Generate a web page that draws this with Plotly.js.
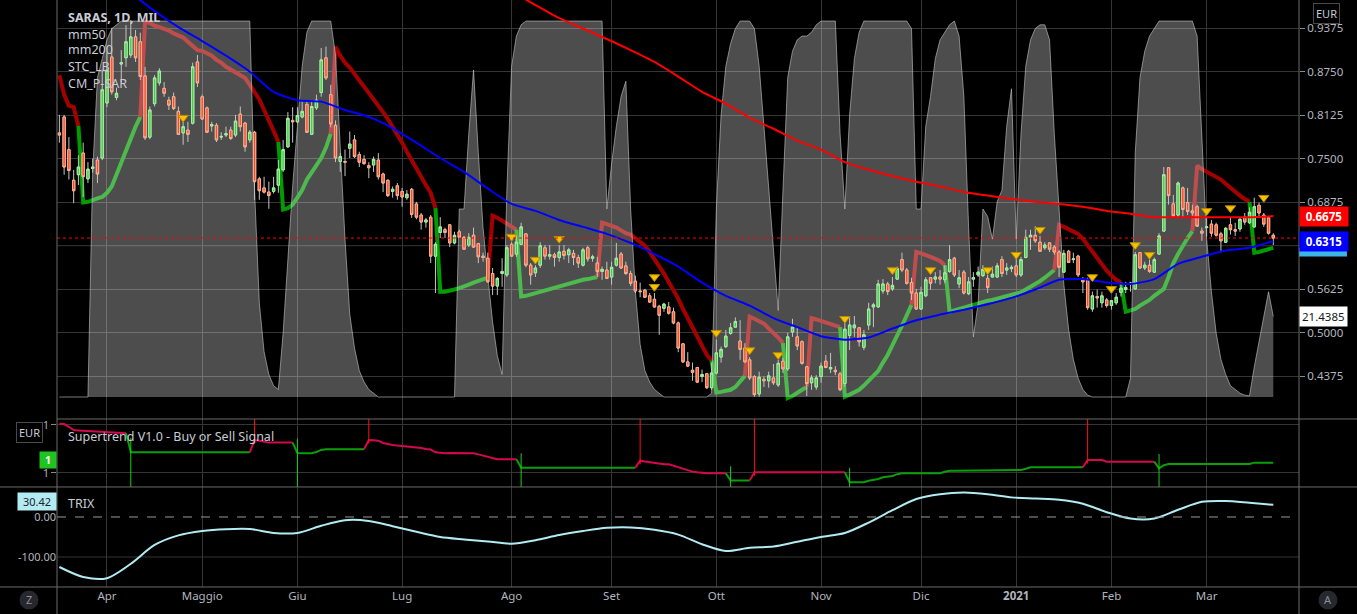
<!DOCTYPE html>
<html><head><meta charset="utf-8">
<script src="https://cdn.plot.ly/plotly-3.0.1.min.js"></script>
<style>html,body{margin:0;padding:0;background:#000;overflow:hidden}#chart{width:1357px;height:614px}</style>
</head><body><div id="chart"></div>
<script>
// ---------- DATA (trading days 18 Mar 2020 .. 19 Mar 2021, index 0..255) ----------
const monthIdx = [10,30,50,72,95,116,138,160,181,201,221,241];
const monthLbl = ['Apr','Maggio','Giu','Lug','Ago','Set','Ott','Nov','Dic','<b>2021</b>','Feb','Mar'];
const priceTicks = [0.4375,0.5,0.5625,0.6875,0.75,0.8125,0.875,0.9375];
const hiddenTick = 0.625;

const opens = [
.787,.810,.763,.719,.727,.758,.721,.736,.748,.751,
.830,.896,.838,.886,.895,.899,.925,.918,.869,.781,
.829,.859,.851,.834,.839,.818,.787,.791,.801,.889,
.839,.823,.797,.798,.781,.784,.791,.784,.814,.801,
.777,.788,.721,.708,.702,.703,.712,.734,.767,.805,
.803,.810,.828,.785,.823,.845,.895,.842,.798,.746,
.746,.765,.777,.756,.749,.740,.741,.748,.728,.719,
.703,.711,.703,.694,.706,.685,.669,.659,.666,.610,
.644,.648,.655,.629,.645,.637,.626,.640,.628,.610,
.607,.585,.567,.585,.583,.627,.613,.627,.642,.597,
.586,.597,.622,.610,.612,.608,.617,.612,.614,.608,
.597,.622,.607,.600,.588,.590,.580,.597,.613,.596,
.585,.574,.560,.561,.553,.548,.538,.535,.537,.530,
.514,.484,.458,.446,.450,.437,.441,.421,.442,.465,
.480,.499,.508,.488,.478,.461,.437,.412,.433,.431,
.435,.425,.459,.448,.501,.494,.487,.451,.428,.422,
.437,.459,.448,.446,.441,.427,.496,.507,.507,.479,
.511,.537,.537,.560,.570,.563,.577,.605,.590,.572,
.557,.534,.553,.579,.577,.580,.576,.588,.607,.570,
.587,.556,.577,.583,.582,.578,.580,.580,.605,.590,
.592,.596,.583,.608,.637,.640,.630,.622,.629,.623,
.616,.587,.617,.605,.610,.577,.576,.534,.552,.543,
.547,.539,.543,.558,.562,.570,.563,.615,.593,.597,
.587,.613,.646,.737,.685,.669,.708,.687,.675,.681,
.646,.651,.656,.655,.642,.630,.655,.648,.649,.666,
.658,.652,.683,.669,.665,.640];
const highs = [
.813,.813,.781,.734,.755,.773,.745,.750,.753,.878,
.902,.938,.852,.906,.942,.949,.935,.931,.882,.825,
.870,.880,.860,.839,.845,.825,.803,.803,.888,.899,
.842,.825,.803,.801,.788,.796,.796,.813,.825,.803,
.791,.790,.724,.724,.717,.724,.748,.777,.817,.824,
.824,.834,.834,.834,.842,.909,.911,.856,.805,.758,
.763,.789,.784,.760,.755,.745,.753,.758,.730,.720,
.710,.715,.708,.705,.708,.688,.672,.665,.669,.630,
.666,.651,.656,.645,.648,.639,.643,.651,.629,.615,
.615,.593,.580,.607,.626,.630,.640,.658,.643,.600,
.597,.630,.626,.626,.615,.626,.626,.622,.619,.612,
.622,.625,.612,.609,.595,.602,.602,.629,.616,.602,
.589,.582,.572,.563,.557,.557,.540,.543,.544,.536,
.516,.485,.472,.457,.451,.447,.442,.457,.490,.480,
.504,.514,.522,.518,.485,.465,.439,.444,.437,.444,
.455,.461,.464,.500,.520,.508,.489,.452,.439,.439,
.457,.468,.471,.452,.444,.521,.523,.524,.508,.504,
.543,.543,.576,.577,.573,.580,.595,.615,.593,.579,
.563,.566,.580,.580,.587,.590,.597,.626,.609,.590,
.590,.580,.587,.595,.597,.583,.595,.600,.610,.600,
.597,.609,.609,.648,.648,.653,.639,.630,.630,.626,
.619,.619,.619,.615,.612,.580,.579,.559,.562,.559,
.550,.547,.557,.572,.573,.573,.616,.616,.602,.605,
.608,.643,.738,.738,.698,.717,.710,.708,.684,.684,
.651,.666,.662,.658,.645,.652,.666,.658,.666,.672,
.680,.694,.687,.672,.666,.643];
const lows = [
.773,.727,.720,.686,.712,.695,.715,.730,.715,.748,
.824,.842,.834,.860,.882,.895,.889,.863,.777,.778,
.825,.855,.839,.820,.820,.784,.770,.774,.799,.853,
.806,.787,.789,.774,.777,.781,.777,.781,.789,.760,
.773,.691,.691,.700,.678,.700,.701,.731,.766,.773,
.801,.808,.787,.784,.820,.839,.863,.795,.745,.731,
.725,.751,.751,.738,.741,.722,.731,.720,.702,.695,
.694,.691,.681,.691,.665,.663,.648,.651,.600,.557,
.636,.636,.623,.627,.636,.619,.623,.622,.600,.602,
.572,.554,.554,.566,.580,.609,.609,.626,.594,.569,
.580,.593,.605,.605,.595,.602,.605,.600,.597,.593,
.595,.602,.602,.580,.576,.577,.569,.595,.592,.583,
.567,.557,.551,.550,.543,.536,.497,.530,.526,.512,
.472,.457,.451,.431,.428,.429,.419,.418,.440,.457,
.478,.497,.507,.461,.457,.432,.408,.408,.422,.421,
.425,.422,.442,.445,.494,.475,.454,.409,.418,.418,
.428,.449,.442,.439,.416,.422,.475,.494,.480,.475,
.504,.508,.536,.556,.554,.560,.576,.587,.569,.547,
.533,.533,.551,.562,.571,.569,.571,.586,.580,.564,
.555,.554,.566,.580,.580,.557,.579,.579,.580,.583,
.587,.580,.580,.607,.619,.629,.616,.619,.616,.612,
.580,.586,.600,.600,.580,.557,.533,.530,.536,.536,
.536,.533,.540,.552,.557,.559,.562,.592,.590,.586,
.586,.612,.645,.684,.665,.666,.666,.669,.668,.652,
.632,.638,.638,.638,.615,.629,.641,.639,.645,.655,
.656,.651,.666,.652,.641,.626];
const closes = [
.784,.738,.733,.704,.738,.724,.735,.738,.728,.849,
.877,.846,.844,.888,.918,.925,.895,.868,.780,.820,
.866,.876,.844,.827,.822,.785,.796,.785,.882,.859,
.807,.788,.799,.777,.782,.786,.779,.804,.796,.767,
.788,.717,.704,.702,.697,.708,.735,.763,.808,.803,
.812,.818,.788,.825,.834,.892,.866,.800,.751,.753,
.745,.771,.753,.745,.743,.737,.749,.724,.715,.697,
.706,.697,.695,.699,.670,.666,.659,.662,.610,.627,
.652,.644,.629,.640,.637,.620,.637,.623,.609,.608,
.573,.567,.578,.588,.622,.610,.630,.652,.597,.583,
.593,.625,.610,.612,.608,.616,.611,.619,.608,.600,
.619,.606,.609,.588,.591,.578,.594,.607,.593,.585,
.571,.560,.559,.551,.544,.537,.525,.541,.528,.514,
.478,.458,.452,.443,.429,.440,.421,.442,.471,.476,
.495,.507,.516,.476,.458,.435,.411,.436,.431,.438,
.428,.456,.448,.494,.508,.481,.456,.427,.435,.435,
.452,.450,.450,.444,.418,.505,.511,.511,.487,.497,
.534,.540,.570,.570,.559,.568,.592,.590,.571,.557,
.534,.558,.576,.571,.580,.577,.586,.605,.583,.579,
.557,.573,.579,.587,.591,.565,.584,.596,.585,.593,
.594,.583,.605,.637,.640,.632,.617,.626,.620,.616,
.594,.614,.601,.606,.583,.573,.536,.553,.550,.553,
.539,.546,.551,.564,.565,.571,.612,.593,.597,.588,
.605,.639,.727,.697,.668,.715,.677,.674,.672,.653,
.643,.652,.643,.640,.632,.650,.648,.646,.663,.659,
.673,.681,.672,.656,.643,.636];

// moving averages (read every 5 bars)
const mm50Idx = [10,15,20,25,30,35,40,45,50,55,60,65,70,75,80,85,90,95,100,105,110,115,120,125,130,135,140,145,150,155,160,165,170,175,180,185,190,195,200,205,210,215,220,225,230,235,240,245,250,255];
const mm50Vals = [1.014,.988,.962,.939,.919,.898,.875,.846,.834,.832,.820,.810,.794,.773,.751,.731,.707,.685,.675,.662,.652,.642,.629,.613,.595,.572,.553,.539,.521,.508,.495,.490,.493,.506,.518,.526,.533,.541,.550,.562,.576,.577,.572,.570,.577,.599,.609,.618,.622,.6315];
const mm200Idx = [90,95,100,105,110,115,120,125,130,135,140,145,150,155,160,165,170,175,180,185,190,195,200,205,210,215,220,225,230,235,240,245,250,255];
const mm200Vals = [1.014,.990,.971,.952,.937,.922,.906,.889,.868,.846,.829,.809,.793,.776,.763,.745,.734,.725,.717,.710,.702,.697,.692,.688,.685,.681,.675,.671,.666,.666,.666,.666,.666,.6675];

// STC_LB oscillator (0..100)
const stc = [
0,0,0,0,0,0,0,60,85,90,
95,98,99,100,100,100,100,100,100,100,
100,100,100,100,100,100,100,100,100,100,
100,100,100,100,100,100,100,100,100,100,
100,55,25,12,6,3,2,17,38,56,
72,88,97,100,100,100,100,100,91,66,
42,22,13,7,4,2,1,0,0,0,
0,0,0,0,0,0,0,0,0,0,
0,0,0,0,50,50,70,87,65,45,
32,20,11,6,55,88,96,99,100,100,
100,100,100,100,100,100,100,100,100,100,
100,100,100,100,100,50,62,72,80,84,
50,28,14,7,4,2,1,0,0,0,
0,0,0,0,0,0,0,1,50,75,
88,94,98,100,100,100,98,88,72,55,
38,23,55,85,92,95,96,96,97,99,
100,100,100,100,70,50,75,90,97,100,
100,100,100,100,100,100,100,100,100,98,
50,50,72,80,90,95,97,99,100,96,
80,45,16,25,50,48,42,52,55,72,
82,42,70,88,95,98,99,99,95,70,
50,30,18,10,5,2,0.5,0,0,0,
0,0,0,0,0,5,65,85,92,96,
98,100,100,100,100,100,100,100,100,96,
70,42,28,17,10,6,3,2,1,0.5,
0.3,8,15,22,28,21.4385];

// CM_P-SAR
const psar = [
.870,.842,.826,.824,.797,.687,.688,.691,.693,.695,
.701,.710,.728,.745,.764,.779,.796,.810,.947,.945,
.941,.939,.937,.934,.930,.927,.924,.918,.912,.906,
.905,.902,.898,.892,.888,.882,.878,.873,.869,.866,
.856,.845,.835,.820,.806,.790,.774,.677,.679,.684,
.694,.705,.720,.731,.741,.751,.766,.786,.911,.898,
.888,.881,.872,.863,.855,.845,.836,.827,.817,.807,
.796,.786,.773,.760,.747,.735,.724,.712,.701,.679,
.559,.559,.560,.562,.564,.566,.569,.572,.574,.576,
.579,.668,.665,.661,.656,.652,.648,.552,.553,.555,
.557,.559,.561,.563,.564,.567,.569,.570,.572,.574,
.576,.577,.579,.580,.658,.656,.654,.651,.647,.643,
.641,.636,.631,.625,.616,.606,.596,.585,.573,.562,
.549,.534,.521,.507,.493,.480,.468,.460,.414,.415,
.416,.418,.422,.429,.438,.523,.520,.517,.513,.506,
.500,.493,.485,.406,.409,.414,.418,.422,.521,.519,
.517,.515,.513,.511,.508,.408,.411,.414,.418,.424,
.431,.438,.445,.457,.468,.482,.495,.510,.525,.540,
.616,.614,.612,.609,.606,.603,.597,.530,.532,.534,
.536,.539,.540,.542,.544,.546,.547,.549,.551,.553,
.554,.557,.558,.562,.566,.569,.574,.579,.585,.590,
.655,.652,.649,.646,.642,.635,.626,.616,.606,.597,
.589,.582,.576,.572,.530,.532,.534,.539,.543,.547,
.553,.558,.563,.580,.600,.613,.625,.636,.646,.740,
.735,.731,.727,.723,.720,.714,.708,.702,.697,.692,
.688,.615,.616,.618,.619,.622];
const psarUp = [5,47,80,97,138,153,165,187,224,251];
const psarDown = [18,58,91,114,145,158,180,210,239];

// signal triangles
const triIdx = [26,95,100,105,125,125,138,145,151,165,175,183,195,201,206,217,221,226,229,241,246,253];
const triVals = [.809,.638,.605,.635,.580,.566,.500,.475,.468,.520,.590,.590,.590,.612,.648,.580,.563,.626,.612,.675,.679,.694];

// Supertrend V1.0 (pane scale)
const st = [
1.010,1.008,0.985,0.958,0.955,0.953,0.950,0.947,0.945,0.943,
0.940,0.938,0.935,0.933,0.931,0.772,0.772,0.772,0.772,0.772,
0.772,0.772,0.772,0.772,0.772,0.772,0.772,0.772,0.772,0.772,
0.772,0.772,0.772,0.772,0.772,0.772,0.772,0.772,0.772,0.772,
0.772,0.875,0.869,0.860,0.853,0.853,0.853,0.853,0.853,0.853,
0.767,0.765,0.764,0.764,0.775,0.792,0.797,0.798,0.798,0.798,
0.798,0.798,0.798,0.798,0.798,0.875,0.872,0.869,0.850,0.840,
0.833,0.828,0.825,0.822,0.818,0.815,0.808,0.800,0.795,0.772,
0.767,0.765,0.767,0.767,0.767,0.767,0.767,0.765,0.755,0.745,
0.735,0.725,0.714,0.714,0.714,0.714,0.714,0.644,0.644,0.644,
0.644,0.644,0.644,0.644,0.644,0.644,0.644,0.644,0.644,0.644,
0.644,0.644,0.644,0.644,0.644,0.644,0.644,0.644,0.644,0.644,
0.644,0.644,0.702,0.695,0.689,0.682,0.675,0.672,0.672,0.660,
0.648,0.631,0.620,0.611,0.605,0.600,0.598,0.598,0.598,0.598,
0.598,0.536,0.536,0.536,0.536,0.536,0.606,0.606,0.606,0.606,
0.606,0.606,0.606,0.606,0.606,0.606,0.606,0.606,0.606,0.606,
0.606,0.606,0.606,0.606,0.606,0.606,0.523,0.523,0.523,0.523,
0.535,0.542,0.550,0.564,0.570,0.575,0.590,0.598,0.598,0.598,
0.598,0.598,0.598,0.598,0.598,0.598,0.610,0.619,0.619,0.619,
0.619,0.619,0.619,0.619,0.619,0.619,0.619,0.619,0.619,0.619,
0.619,0.619,0.625,0.635,0.648,0.648,0.648,0.648,0.648,0.648,
0.648,0.648,0.648,0.648,0.648,0.648,0.708,0.708,0.708,0.708,
0.694,0.694,0.694,0.694,0.694,0.694,0.694,0.694,0.694,0.694,
0.694,0.639,0.665,0.675,0.675,0.675,0.675,0.675,0.675,0.675,
0.675,0.675,0.675,0.675,0.675,0.675,0.675,0.675,0.675,0.675,
0.675,0.686,0.686,0.686,0.686,0.686];
const stBuy = [15,50,97,141,166,231];
const stSell = [41,65,122,146,216];

// TRIX (read every 5 bars)
const trixIdx = [0,5,10,15,20,25,30,35,40,45,50,55,60,65,70,75,80,85,90,95,100,105,110,115,120,125,130,135,140,145,150,155,160,165,170,175,180,185,190,195,200,205,210,215,220,225,230,235,240,245,250,255];
const trixVals = [-125,-150,-153,-117,-70,-46,-35,-30.5,-30,-40,-40,-22,-8,-10,-23,-37,-50,-56,-61,-67,-58,-45,-35,-27,-26,-32,-44,-68,-85,-77,-74,-62,-50,-40,-14,17,45,57,61,57,49,46,43,33,12,-4,-4,18,38,40,35.5,30.42];

// ---------- BUILD ----------
const N = closes.length;
const X = closes.map((_, i) => i);
function dirs(start, ups, downs){ let c = start; return X.map(i => { if (ups.includes(i)) c = 1; else if (downs.includes(i)) c = -1; return c; }); }
const psarDir = dirs(-1, psarUp, psarDown);
const stDir = dirs(-1, stBuy, stSell);
function runs(vals, dir, upC, downC, width, yaxis){
  const out = []; let s = 0;
  for (let i = 1; i <= N; i++) {
    if (i === N || dir[i] !== dir[s]) {
      const a = s > 0 ? s - 1 : 0;
      out.push({type:'scatter', mode:'lines', x:X.slice(a, i), y:vals.slice(a, i), yaxis:yaxis,
        line:{color: dir[s] > 0 ? upC : downC, width:width}, hoverinfo:'skip'});
      s = i;
    }
  }
  return out;
}
const FONT = 'Noto Sans, Open Sans, sans-serif';
const GRID = '#353535';
const SEP = '#6a6a6a';
const TXT = '#c9ccd4';

const traces = [];
// PSAR (base y axis, drawn below STC)
runs(psar, psarDir, '#009c00', '#a50000', 4, 'y').forEach(t => traces.push(t));
// STC area
traces.push({type:'scatter', mode:'lines', x:X, y:stc, yaxis:'y2', fill:'tozeroy',
  fillcolor:'rgba(255,255,255,0.30)', line:{color:'rgba(200,200,200,0.6)', width:1}, hoverinfo:'skip'});
// candle wicks
traces.push({type:'candlestick', x:X, open:opens, high:highs, low:lows, close:closes, yaxis:'y3',
  increasing:{line:{color:'#c4c4c4', width:1}, fillcolor:'#c4c4c4'},
  decreasing:{line:{color:'#c4c4c4', width:1}, fillcolor:'#c4c4c4'}, hoverinfo:'skip'});
// candle bodies
traces.push({type:'candlestick', x:X, open:opens, close:closes,
  high:opens.map((o, i) => Math.max(o, closes[i])), low:opens.map((o, i) => Math.min(o, closes[i])), yaxis:'y3',
  increasing:{line:{color:'#9ff29f', width:1}, fillcolor:'#4cc94c'},
  decreasing:{line:{color:'#ffab8a', width:1}, fillcolor:'#f2502c'}, hoverinfo:'skip'});
// moving averages
traces.push({type:'scatter', mode:'lines', x:mm200Idx, y:mm200Vals, yaxis:'y3', line:{color:'#ff0000', width:2, shape:'spline', smoothing:0.6}, hoverinfo:'skip'});
traces.push({type:'scatter', mode:'lines', x:mm50Idx, y:mm50Vals, yaxis:'y3', line:{color:'#0000ff', width:2, shape:'spline', smoothing:0.6}, hoverinfo:'skip'});
// triangles
traces.push({type:'scatter', mode:'markers', x:triIdx, y:triVals, yaxis:'y3',
  marker:{symbol:'triangle-down', size:9, color:'#f7c300', line:{color:'#b88a00', width:1}}, hoverinfo:'skip'});
// supertrend
runs(st, stDir, '#0a9e0a', '#d4084f', 2, 'y4').forEach(t => traces.push(t));
const gx = [], gy = [], rx = [], ry = [];
stBuy.forEach(i => { gx.push(i, i, null); gy.push(st[i] + 0.12, 0.3, null); });
stSell.forEach(i => { rx.push(i, i, null); ry.push(1.3, st[i] - 0.03, null); });
traces.push({type:'scatter', mode:'lines', x:gx, y:gy, yaxis:'y4', line:{color:'#18d018', width:1}, hoverinfo:'skip'});
traces.push({type:'scatter', mode:'lines', x:rx, y:ry, yaxis:'y4', line:{color:'#ff1010', width:1}, hoverinfo:'skip'});
// TRIX
traces.push({type:'scatter', mode:'lines', x:trixIdx, y:trixVals, yaxis:'y5', line:{color:'#b2ebf2', width:2, shape:'spline', smoothing:0.8}, hoverinfo:'skip'});

const priceRange = [0.376, 0.978];
const lastClose = closes[N - 1];
const lastPsar = psar[N - 1];
const annotations = [
  {text:'<b>SARAS, 1D, MIL</b>', x:0.0072, y:0.971},
  {text:'mm50', x:0.0072, y:0.942},
  {text:'mm200', x:0.0072, y:0.915},
  {text:'STC_LB', x:0.0072, y:0.886},
  {text:'CM_P-SAR', x:0.0072, y:0.857},
  {text:'Supertrend V1.0 - Buy or Sell Signal', x:0.0072, y:0.2572},
  {text:'TRIX', x:0.0072, y:0.1414}
].map(a => Object.assign({xref:'paper', yref:'paper', xanchor:'left', yanchor:'middle', showarrow:false,
  font:{family:FONT, size:12.5, color:TXT}}, a));
function box(extra){ return Object.assign({showarrow:false, xref:'paper', xanchor:'left', yanchor:'middle', borderpad:2,
  font:{family:FONT, size:11.5, color:'#ffffff'}}, extra); }
annotations.push(box({x:1, yref:'y3', y:mm50Vals[mm50Vals.length - 1], text:'<b>' + mm50Vals[mm50Vals.length - 1].toFixed(4) + '</b>', width:44, bgcolor:'#0000ff'}));
annotations.push(box({x:1, yref:'y3', y:mm200Vals[mm200Vals.length - 1], text:'<b>' + mm200Vals[mm200Vals.length - 1].toFixed(4) + '</b>', width:44, bgcolor:'#ff0000'}));
annotations.push(box({x:1, yref:'y2', y:stc[N - 1], text:stc[N - 1].toFixed(4), bgcolor:'#ffffff', font:{family:FONT, size:11.5, color:'#131722'}}));
annotations.push(box({x:0, xanchor:'right', yref:'y4', y:st[N - 1], yshift:3, text:'<b>1</b>', width:14, borderpad:1, bgcolor:'#1fc41f', font:{family:FONT, size:10.5, color:'#ffffff'}}));
annotations.push(box({x:0, xanchor:'right', yref:'y5', y:trixVals[trixVals.length - 1], yshift:3, text:trixVals[trixVals.length - 1].toFixed(2), width:36, borderpad:1, bgcolor:'#b2ebf2', font:{family:FONT, size:11, color:'#1e222d'}}));
annotations.push(box({x:-0.0225, xanchor:'center', yref:'paper', y:0.2640, text:'EUR', bordercolor:'#4a4a4a', borderwidth:1, bgcolor:'#000', font:{family:FONT, size:11, color:TXT}}));
annotations.push(box({x:1.0225, xanchor:'center', yref:'paper', y:0.9762, text:'EUR', bordercolor:'#4a4a4a', borderwidth:1, bgcolor:'#000', font:{family:FONT, size:11, color:TXT}}));
annotations.push(box({x:-0.0225, xanchor:'center', yref:'paper', y:-0.0221, text:'Z', font:{family:FONT, size:11, color:'#8a8e99'}, borderpad:0}));
annotations.push(box({x:1.0233, xanchor:'center', yref:'paper', y:-0.0221, text:'A', font:{family:FONT, size:11, color:'#8a8e99'}, borderpad:0}));

const shapes = [
  {type:'line', xref:'paper', x0:0, x1:1, yref:'y', y0:hiddenTick, y1:hiddenTick, line:{color:GRID, width:1}, layer:'below'},
  // light-blue value tag partly hidden behind the blue mm50 tag
  {type:'rect', xref:'paper', x0:1, x1:1.0386, yref:'y', y0:lastPsar - 0.0125, y1:lastPsar, fillcolor:'#3cb4e6', line:{width:0}},
  {type:'line', xref:'paper', x0:0, x1:1, yref:'y3', y0:lastClose, y1:lastClose, line:{color:'#ff0000', width:1, dash:'dot'}},
  {type:'line', xref:'paper', x0:0, x1:1, yref:'y5', y0:-100, y1:-100, line:{color:GRID, width:1}, layer:'below'},
  {type:'line', xref:'paper', x0:0, x1:1, yref:'y5', y0:0, y1:0, line:{color:'#9a9a9a', width:1, dash:'dash'}},
  {type:'line', xref:'paper', yref:'paper', x0:0, x1:1.0467, y0:0.2862, y1:0.2862, line:{color:SEP, width:1}},
  {type:'line', xref:'paper', yref:'paper', x0:-0.046, x1:1.0467, y0:0.1704, y1:0.1704, line:{color:SEP, width:1}},
  {type:'line', xref:'paper', yref:'paper', x0:-0.046, x1:1.0467, y0:0, y1:0, line:{color:SEP, width:1}},
  {type:'line', xref:'paper', yref:'paper', x0:0, x1:0, y0:-0.046, y1:1, line:{color:SEP, width:1}},
  {type:'line', xref:'paper', yref:'paper', x0:1, x1:1, y0:-0.046, y1:1, line:{color:SEP, width:1}},
  {type:'circle', xref:'paper', yref:'paper', x0:-0.0302, x1:-0.0149, y0:-0.0383, y1:-0.0060, fillcolor:'#26282e', line:{width:0}, layer:'below'},
  {type:'circle', xref:'paper', yref:'paper', x0:1.0157, x1:1.0310, y0:-0.0383, y1:-0.0060, fillcolor:'#26282e', line:{width:0}, layer:'below'}
];

const axisFont = {family:FONT, size:11.5, color:'#b2b5be'};
const layout = {
  width:1357, height:614, paper_bgcolor:'#000', plot_bgcolor:'#000',
  margin:{l:57, r:58, t:0, b:27}, showlegend:false, hovermode:false, dragmode:false,
  font:{family:FONT, color:TXT},
  xaxis:{range:[-0.5, 260.4], anchor:'y5', tickmode:'array', tickvals:monthIdx, ticktext:monthLbl,
    showgrid:true, gridcolor:GRID, zeroline:false, showline:false, ticks:'', tickfont:axisFont,
    rangeslider:{visible:false}, fixedrange:true},
  yaxis:{domain:[0.2862, 1], range:priceRange, side:'right', anchor:'x', tickmode:'array', tickvals:priceTicks,
    ticktext:priceTicks.map(v => v.toFixed(4)),
    showgrid:true, gridcolor:GRID, zeroline:false, showline:false, ticks:'outside', ticklen:5, tickcolor:'#8a8a8a', tickfont:axisFont, fixedrange:true},
  yaxis2:{overlaying:'y', range:[-5.85, 105.6], visible:false, fixedrange:true},
  yaxis3:{overlaying:'y', range:priceRange, visible:false, fixedrange:true},
  yaxis4:{domain:[0.1704, 0.2862], range:[0.483, 1.05], side:'left', anchor:'x', tickmode:'array', tickvals:[1.0, 0.6], ticktext:['1','1'],
    showgrid:true, gridcolor:GRID, zeroline:false, showline:false, ticks:'outside', ticklen:5, tickcolor:'#8a8a8a',
    tickfont:{family:FONT, size:10.5, color:'#b2b5be'}, fixedrange:true},
  yaxis5:{domain:[0, 0.1704], range:[-175, 75], side:'left', anchor:'x', tickmode:'array', tickvals:[0, -100], ticktext:['0.00','-100.00'],
    showgrid:false, zeroline:false, showline:false, ticks:'', tickfont:{family:FONT, size:11, color:'#b2b5be'}, fixedrange:true},
  annotations:annotations, shapes:shapes
};
Plotly.newPlot('chart', traces, layout, {staticPlot:true, displayModeBar:false});
</script>
</body></html>
